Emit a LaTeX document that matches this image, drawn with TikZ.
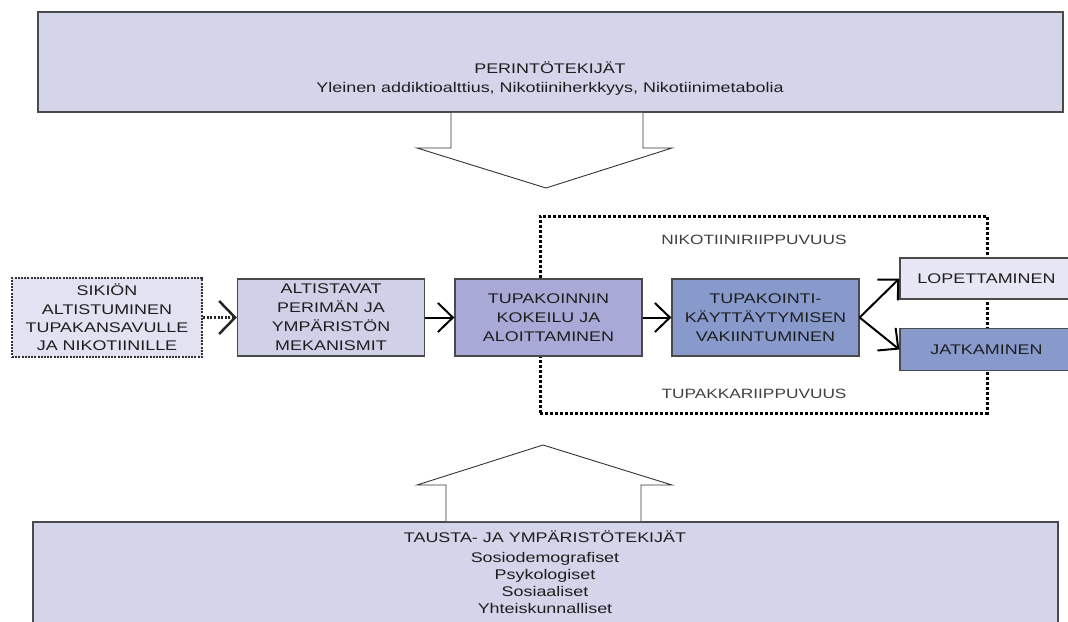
\documentclass[tikz,border=0pt]{standalone}
\usepackage{fontspec}
\setmainfont{Liberation Sans}[FakeStretch=1.28]
\usetikzlibrary{arrows.meta}
\definecolor{bigfill}{HTML}{D4D4EA}
\definecolor{sikfill}{HTML}{E2E2F2}
\definecolor{altfill}{HTML}{D0D0E8}
\definecolor{kokfill}{HTML}{A9A9D8}
\definecolor{vakfill}{HTML}{8899CC}
\definecolor{lopfill}{HTML}{E6E6F4}
\definecolor{edgegray}{HTML}{4A4A4A}
\definecolor{txt}{HTML}{1E1E1E}
\begin{document}
\begin{tikzpicture}[x=1pt,y=-1pt,
  bigbox/.style={draw=edgegray, line width=1.8pt, fill=bigfill, rectangle, inner sep=0},
  bigtext/.style={align=center, text=txt, font=\fontsize{14}{19}\selectfont, inner sep=0},
  stagebox/.style={draw=edgegray, line width=1.3pt, rectangle, inner sep=0, align=center,
    text=txt, font=\fontsize{14}{19}\selectfont, minimum width=187, minimum height=77},
  sidebox/.style={stagebox, minimum width=173, minimum height=42},
  deplabel/.style={text=txt!85, font=\fontsize{13.5}{16}\selectfont, inner sep=0},
  arr/.style={draw=black, line width=2pt, -{Straight Barb[length=15pt,width=29pt,line width=2pt]}},
  dotarr/.style={draw=black!85, line width=2.5pt, dash pattern=on 2pt off 1.6pt,
    -{Straight Barb[length=16pt,width=33pt,line width=2.5pt]}},
  blockarrow/.style={draw=black!80, line width=0.9pt, fill=white, line join=miter}
]
\useasboundingbox (0,0) rectangle (1068,621);

% top and bottom boxes
\node[bigbox, minimum width=1025, minimum height=100] (topbox) at (550.5,62) {};
\node[bigtext] (toptext) at (550,79) {PERINTÖTEKIJÄT\\Yleinen addiktioalttius, Nikotiiniherkkyys, Nikotiinimetabolia};
\node[bigbox, minimum width=1025, minimum height=140] (botbox) at (545.5,592) {};
\node[bigtext, font=\fontsize{14}{17}\selectfont] (bottext) at (545,572) {TAUSTA- JA YMPÄRISTÖTEKIJÄT\\[3pt]Sosiodemografiset\\Psykologiset\\Sosiaaliset\\Yhteiskunnalliset};

% block arrows
\draw[blockarrow] (451,112.9) -- (451,148) -- (417,148) -- (546,188) -- (672,148) -- (643,148) -- (643,112.9);
\draw[blockarrow] (446,521.1) -- (446,485) -- (417,485) -- (543,445) -- (672,485) -- (641,485) -- (641,521.1);

% dependency frame
\node[draw=black, line width=3pt, dash pattern=on 3pt off 2pt, rectangle, inner sep=0,
  minimum width=447, minimum height=197] (dep) at (763.5,314.5) {};
\node[deplabel] (nik) at (754,240) {NIKOTIINIRIIPPUVUUS};
\node[deplabel] (tup) at (754,394) {TUPAKKARIIPPUVUUS};

% stage boxes
\node[stagebox, draw=black!80, line width=2.2pt, dash pattern=on 2pt off 1.2pt, fill=sikfill,
  minimum width=190, minimum height=79, font=\fontsize{14}{18.3}\selectfont] (sik) at (107,317.5)
  {SIKIÖN\\ALTISTUMINEN\\TUPAKANSAVULLE\\JA NIKOTIINILLE};
\node[stagebox, fill=altfill] (alt) at (331,317.5) {ALTISTAVAT\\PERIMÄN JA\\YMPÄRISTÖN\\MEKANISMIT};
\node[stagebox, fill=kokfill] (kok) at (548.5,317.5) {TUPAKOINNIN\\KOKEILU JA\\ALOITTAMINEN};
\node[stagebox, fill=vakfill] (vak) at (765.5,317.5) {TUPAKOINTI-\\KÄYTTÄYTYMISEN\\VAKIINTUMINEN};
\node[sidebox, fill=lopfill, minimum height=41] (lop) at (986.5,278.5) {LOPETTAMINEN};
\node[sidebox, fill=vakfill] (jat) at (986.5,349.5) {JATKAMINEN};

% connectors
\draw[dotarr] (sik) -- (alt);
\draw[arr] (alt) -- (kok);
\draw[arr] (kok) -- (vak);
\draw[arr] (vak.east) -- (lop.west);
\draw[arr] (vak.east) -- (jat.west);
\end{tikzpicture}
\end{document}
